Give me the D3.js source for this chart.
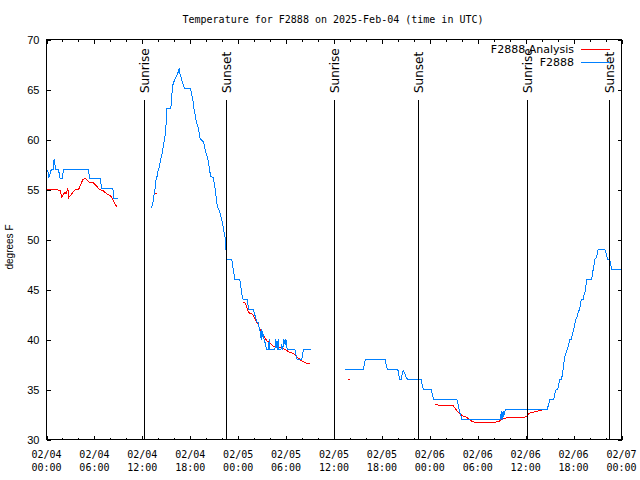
<!DOCTYPE html>
<html><head><meta charset="utf-8">
<script src="https://cdn.jsdelivr.net/npm/d3@7"></script>
<style>body{margin:0;background:#fff}svg{display:block}</style>
</head><body>
<svg id="c" width="640" height="480"></svg>
<script>
// ---------- data ----------
const startTime = "2025-02-04T00:00:00Z";   // hours below are offsets from this
const timeDomainHours = [0, 72];
const tempDomain = [30, 70];
const yTicks = [30, 35, 40, 45, 50, 55, 60, 65, 70];
const majorTickHours = 6;
const minorTickHours = 2;
const sunriseHours = [12.27, 36.03, 60.23];
const sunsetHours = [22.54, 46.58, 70.5];
const titleText = "Temperature for F2888 on 2025-Feb-04 (time in UTC)";
const yLabelText = "degrees F";
const seriesNames = ["F2888 Analysis", "F2888"];

// observed (blue), [hour, degF]
const obsSeg1 = [[0.15,57.0],[0.3,56.2],[0.45,56.6],[0.6,57.0],[0.85,57.0],[0.95,58.0],[1.15,57.0],[1.5,57.0],[1.7,56.1],[1.95,56.1],[2.15,57.0],[5.25,57.0],[5.4,56.1],[6.75,56.1],[6.9,55.1],[8.3,55.1],[8.45,54.1],[9.0,54.1]];
const obsSeg2 = [[13.05,53.1],[13.21,53.3],[13.33,53.7],[13.46,54.4],[13.58,54.9],[13.63,55.7],[13.84,56.3],[13.96,56.8],[14.17,57.4],[14.30,58.0],[14.46,58.5],[14.59,59.2],[14.71,59.7],[14.84,60.3],[14.93,61.0],[15.02,62.2],[15.09,63.1],[15.55,63.1],[15.64,63.7],[15.72,64.7],[15.84,65.5],[15.97,65.8],[16.14,66.1],[16.34,66.4],[16.47,66.7],[16.60,67.1],[16.68,66.7],[16.81,66.3],[16.93,66.0],[17.10,65.5],[17.31,65.1],[18.03,65.1],[18.15,64.7],[18.35,63.8],[18.48,63.0],[18.65,62.3],[18.78,61.7],[18.98,61.2],[19.10,60.7],[19.19,60.2],[19.36,60.0],[19.61,59.8],[19.73,59.5],[19.91,58.8],[20.16,58.2],[20.32,57.5],[20.45,56.8],[20.57,56.3],[20.86,56.2],[20.99,55.7],[21.16,54.8],[21.29,54.0],[21.41,53.2],[21.58,53.0],[21.70,52.7],[21.83,52.3],[21.99,51.8],[22.11,51.3],[22.24,50.7],[22.37,50.2],[22.45,49.3],[22.54,48.3],[22.58,48.0],[23.17,48.0],[23.29,47.7],[23.37,47.0],[23.49,46.5],[23.58,46.0],[24.21,46.0],[24.30,45.5],[24.42,44.8],[24.50,44.3],[24.62,44.0],[25.13,44.0],[25.21,43.5],[25.34,43.0],[25.88,43.0],[26.00,42.7],[26.18,42.2],[26.30,41.8],[26.50,41.7],[26.59,41.3],[26.72,40.9],[26.80,40.8],[26.88,40.0],[26.97,41.0],[27.06,40.3],[27.13,40.5],[27.26,40.0],[27.43,39.5],[27.56,39.0],[27.76,39.0],[27.89,40.0],[27.97,39.0],[28.60,39.0],[28.72,40.0],[28.81,39.5],[28.89,39.0],[29.01,40.0],[29.10,39.0],[29.35,39.0],[29.44,39.5],[29.57,39.0],[29.73,40.0],[29.89,39.5],[29.98,40.0],[30.07,39.3],[30.19,39.0],[31.11,39.0],[31.23,38.5],[31.40,38.0],[31.95,38.0],[32.08,38.5],[32.15,39.0],[33.12,39.0]];
const obsSeg3 = [[37.38,37.0],[39.68,37.0],[39.89,37.9],[39.98,38.0],[42.40,38.0],[42.53,37.5],[42.69,37.0],[43.99,37.0],[44.12,36.5],[44.19,36.0],[44.41,36.0],[44.57,36.7],[44.69,36.9],[44.82,36.7],[45.00,36.3],[45.20,36.0],[46.91,36.0],[47.04,35.5],[47.20,35.0],[48.17,35.0],[48.33,34.5],[48.46,34.0],[51.39,34.0],[51.59,33.3],[51.72,32.8],[51.93,32.3],[52.02,32.0],[56.82,32.0],[56.95,32.8],[57.04,32.0],[57.17,32.8],[57.24,32.3],[57.45,33.0],[62.68,33.0],[62.88,33.5],[63.01,34.0],[63.51,34.0],[63.63,34.5],[63.81,35.0],[64.01,35.0],[64.14,35.5],[64.26,36.0],[64.48,36.0],[64.60,36.5],[64.76,37.5],[64.89,38.2],[65.06,38.7],[65.19,39.0],[65.39,39.5],[65.52,40.0],[65.73,40.0],[65.85,40.5],[66.02,41.0],[66.14,41.5],[66.27,42.0],[66.45,42.3],[66.57,42.7],[66.73,43.0],[66.86,43.5],[66.95,44.0],[67.20,44.0],[67.32,44.5],[67.45,44.8],[67.57,45.5],[67.61,46.0],[68.24,46.0],[68.36,46.5],[68.45,47.0],[68.57,47.5],[68.65,48.0],[68.86,48.2],[68.99,48.7],[69.08,49.0],[69.91,49.0],[70.03,48.7],[70.16,48.3],[70.28,48.0],[70.49,48.0],[70.62,47.7],[70.74,47.0],[72.0,47.0]];

// analysis (red), [hour, degF]
const anaSeg1 = [[0,55.0],[1.22,55.0],[1.72,54.9],[1.92,54.2],[2.26,54.7],[2.47,54.6],[2.67,55.1],[2.80,54.2],[3.10,54.5],[3.60,55.0],[4.02,55.0],[4.55,56.0],[4.86,56.1],[5.40,55.7],[5.81,55.7],[6.31,55.3],[6.65,55.0],[7.06,54.9],[7.49,54.6],[7.90,54.4],[8.12,54.3],[8.41,53.8],[8.66,53.4],[8.87,53.3]];
const anaSeg2 = [[13.5,54.6],[13.85,54.6]];
const anaSeg3 = [[22.4,50.0],[22.55,49.6]];
const anaSeg4 = [[24.55,43.7],[24.84,43.7],[25.05,43.3],[25.26,42.8],[25.46,42.6],[25.68,42.6],[25.88,42.4],[26.19,42.0],[26.31,41.7],[26.51,41.5],[26.72,41.0],[27.01,40.7],[27.35,40.2],[27.56,39.9],[27.85,39.7],[28.19,39.5],[28.39,39.3],[28.82,39.2],[29.23,39.2],[29.64,39.1],[30.07,38.9],[30.48,38.7],[30.90,38.6],[31.32,38.3],[31.74,38.0],[32.07,37.8],[32.36,37.7],[32.65,37.6],[32.99,37.6]];
const anaSeg5 = [[37.7,36.0],[38.0,36.0]];
const anaSeg6 = [[48.67,33.5],[49.30,33.4],[50.89,33.4],[51.27,33.0],[51.60,32.7],[52.02,32.4],[52.65,32.2],[53.28,31.8],[53.70,31.7],[55.99,31.7],[56.62,31.8],[57.04,32.0],[57.67,32.2],[59.76,32.2],[60.10,32.3],[60.39,32.6],[60.81,32.7],[61.22,32.8],[61.86,32.9],[62.11,33.0]];

const obsSegments = [obsSeg1, obsSeg2, obsSeg3];
const anaSegments = [anaSeg1, anaSeg2, anaSeg3, anaSeg4, anaSeg5, anaSeg6];

// ---------- drawing ----------
const svg = d3.select("#c");
const M = {left: 46.5, right: 621.5, top: 39.5, bottom: 439.5};
const t0 = Date.parse(startTime);
const toDate = h => new Date(t0 + h * 3600000);
const x = d3.scaleUtc().domain(timeDomainHours.map(toDate)).range([M.left, M.right]);
const y = d3.scaleLinear().domain(tempDomain).range([M.bottom, M.top]);
const mono = "'DejaVu Sans Mono', monospace";
const sans = "'DejaVu Sans', sans-serif";
const RED = "#ff0000", BLUE = "#0080ff";

svg.append("rect").attr("width", 640).attr("height", 480).attr("fill", "#fff");

const majorTimes = d3.range(timeDomainHours[0], timeDomainHours[1] + 0.001, majorTickHours).map(toDate);
const minorTimes = d3.range(timeDomainHours[0], timeDomainHours[1] + 0.001, minorTickHours).map(toDate);

function tickAxis(axisFn, scale, values, size, transform) {
  const g = svg.append("g").attr("transform", transform)
    .call(axisFn(scale).tickValues(values).tickSize(size).tickFormat(""));
  g.select(".domain").remove();
  g.selectAll("line").attr("stroke", "#000").attr("shape-rendering", "crispEdges");
  g.selectAll("text").remove();
}
tickAxis(d3.axisBottom, x, minorTimes, -2, `translate(0,${M.bottom})`);
tickAxis(d3.axisTop, x, minorTimes, -2, `translate(0,${M.top})`);
tickAxis(d3.axisBottom, x, majorTimes, -4, `translate(0,${M.bottom})`);
tickAxis(d3.axisTop, x, majorTimes, -4, `translate(0,${M.top})`);
tickAxis(d3.axisLeft, y, yTicks, -4, `translate(${M.left},0)`);
tickAxis(d3.axisRight, y, yTicks, -4, `translate(${M.right},0)`);

// y tick labels
const yl = svg.append("g").attr("transform", `translate(${M.left},0)`)
  .call(d3.axisLeft(y).tickValues(yTicks).tickSize(0).tickPadding(7).tickFormat(d3.format("d")));
yl.select(".domain").remove();
yl.selectAll("text").attr("font-family", "'Liberation Sans', Arial, sans-serif").attr("font-size", 11).attr("fill", "#000").attr("dy", "0.35em");

// x tick labels (two lines)
const fmtD = d3.utcFormat("%m/%d"), fmtT = d3.utcFormat("%H:%M");
const xl = svg.append("g");
majorTimes.forEach(d => {
  const t = xl.append("text").attr("x", x(d)).attr("text-anchor", "middle")
    .attr("font-family", mono).attr("font-size", 10).attr("fill", "#000");
  t.append("tspan").attr("x", x(d)).attr("y", 458).text(fmtD(d));
  t.append("tspan").attr("x", x(d)).attr("y", 471).text(fmtT(d));
});

// title
svg.append("text").attr("x", 333).attr("y", 23).attr("text-anchor", "middle")
  .attr("font-family", mono).attr("font-size", 10).attr("fill", "#000").text(titleText);

// y label
svg.append("text").attr("transform", "translate(13,247) rotate(-90)").attr("text-anchor", "middle")
  .attr("font-family", "'Liberation Sans', Arial, sans-serif").attr("font-size", 10).attr("fill", "#000").text(yLabelText);

// series
const line = d3.line().x(d => x(toDate(d[0]))).y(d => y(d[1]));
svg.append("g").selectAll("path").data(anaSegments).join("path")
  .attr("d", line).attr("fill", "none").attr("stroke", RED).attr("stroke-width", 1)
  .attr("shape-rendering", "crispEdges");
svg.append("g").selectAll("path").data(obsSegments).join("path")
  .attr("d", line).attr("fill", "none").attr("stroke", BLUE).attr("stroke-width", 1)
  .attr("shape-rendering", "crispEdges");

// sunrise / sunset markers
const events = sunriseHours.map(h => ({h, label: "Sunrise"}))
  .concat(sunsetHours.map(h => ({h, label: "Sunset"})));
const ev = svg.append("g");
events.forEach(e => {
  const xp = Math.round(x(toDate(e.h)) - 0.5) + 0.5;
  ev.append("line").attr("x1", xp).attr("x2", xp).attr("y1", 100).attr("y2", M.bottom)
    .attr("stroke", "#000").attr("shape-rendering", "crispEdges");
  ev.append("text").attr("transform", `translate(${xp},93) rotate(-90)`).attr("dy", "0.36em")
    .attr("font-family", sans).attr("font-size", 12).attr("fill", "#000").text(e.label);
});

// frame
svg.append("rect").attr("x", M.left).attr("y", M.top).attr("width", M.right - M.left).attr("height", M.bottom - M.top)
  .attr("fill", "none").attr("stroke", "#000").attr("shape-rendering", "crispEdges");

// legend
const lg = svg.append("g");
[RED, BLUE].forEach((c, i) => {
  const yy = 49.5 + i * 13;
  lg.append("text").attr("x", 574).attr("y", yy).attr("dy", "0.35em").attr("text-anchor", "end")
    .attr("font-family", sans).attr("font-size", 11).attr("fill", "#000").text(seriesNames[i]);
  lg.append("line").attr("x1", 581).attr("x2", 610).attr("y1", yy).attr("y2", yy)
    .attr("stroke", c).attr("shape-rendering", "crispEdges");
});
</script>
</body></html>
